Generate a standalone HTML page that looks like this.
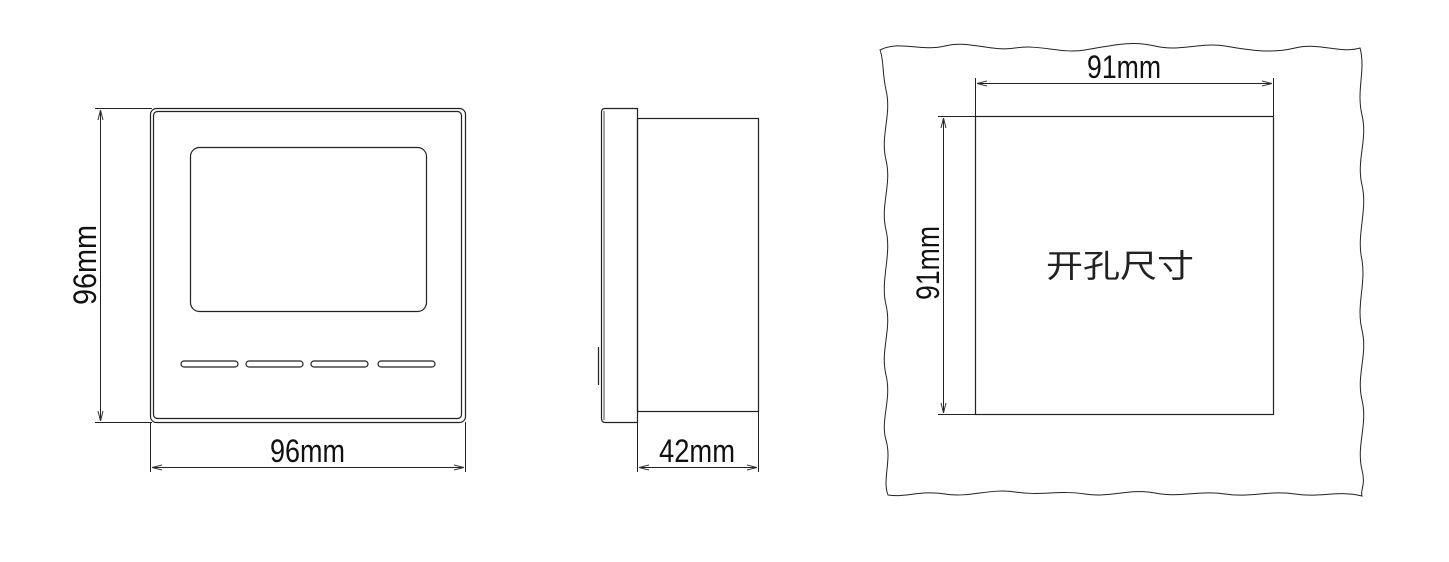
<!DOCTYPE html>
<html><head><meta charset="utf-8"><style>html,body{margin:0;padding:0;background:#fff}svg{display:block}</style></head><body>
<svg width="1449" height="562" viewBox="0 0 1449 562" xmlns="http://www.w3.org/2000/svg" font-family="'Liberation Sans','Noto Sans CJK SC',sans-serif">
<defs>
<marker id="a" viewBox="0 0 10 6" refX="10" refY="3" markerWidth="10" markerHeight="6" orient="auto-start-reverse" markerUnits="userSpaceOnUse"><path d="M0,0.5 L10,3 L0,5.5" fill="none" stroke="#333" stroke-width="1"/></marker>
</defs>
<g fill="none" stroke="#222" stroke-width="1.2">
<!-- front view -->
<rect x="150.5" y="108.5" width="315" height="314" rx="6"/>
<rect x="153.5" y="111.5" width="308" height="307" rx="4"/>
<rect x="190.5" y="147.5" width="236" height="164" rx="9"/>
<rect x="181" y="361" width="57" height="6" rx="3"/>
<rect x="246" y="361" width="57" height="6" rx="3"/>
<rect x="311" y="361" width="57" height="6" rx="3"/>
<rect x="378" y="361" width="57" height="6" rx="3"/>
<!-- dims front -->
<line x1="95" y1="108.5" x2="152" y2="108.5" stroke-width="1"/>
<line x1="95" y1="422.5" x2="152" y2="422.5" stroke-width="1"/>
<line x1="100.5" y1="110" x2="100.5" y2="421" stroke-width="1" marker-start="url(#a)" marker-end="url(#a)"/>
<line x1="150.5" y1="422" x2="150.5" y2="472" stroke-width="1"/>
<line x1="465.5" y1="422" x2="465.5" y2="472" stroke-width="1"/>
<line x1="152" y1="467.5" x2="464" y2="467.5" stroke-width="1" marker-start="url(#a)" marker-end="url(#a)"/>
<!-- side view -->
<path d="M637.5,108.5 H605 Q601.5,108.5 601.5,112 V418 Q601.5,422.5 605,422.5 H637.5 Z"/>
<line x1="604" y1="111" x2="604" y2="420" stroke-width="0.8"/>
<rect x="637.5" y="118.5" width="121" height="293"/>
<line x1="598.5" y1="347" x2="598.5" y2="385"/>
<line x1="637.5" y1="422" x2="637.5" y2="472" stroke-width="1"/>
<line x1="758.5" y1="412" x2="758.5" y2="472" stroke-width="1"/>
<line x1="639" y1="467.5" x2="757" y2="467.5" stroke-width="1" marker-start="url(#a)" marker-end="url(#a)"/>
<!-- cutout -->
<path d="M880,50 C900,40 920,52 945,46 C970,40 990,52 1015,48 C1040,44 1060,54 1085,50 C1110,46 1130,40 1155,46 C1180,52 1200,42 1225,46 C1250,50 1270,54 1295,48 C1320,42 1340,54 1360,48
C1366,70 1356,90 1362,115 C1368,140 1356,160 1362,185 C1368,210 1356,235 1362,260 C1366,285 1356,305 1362,330 C1368,355 1356,375 1362,400 C1368,425 1356,445 1362,470 C1366,485 1360,490 1362,496
C1340,490 1320,498 1295,494 C1270,490 1250,498 1225,494 C1200,490 1180,498 1155,493 C1130,488 1110,498 1085,494 C1060,490 1040,496 1015,492 C990,488 970,498 945,494 C920,490 905,498 888,495
C882,480 892,460 886,440 C880,420 892,400 886,375 C880,350 892,330 886,305 C880,280 892,255 886,230 C880,205 892,185 886,160 C880,135 892,115 886,90 C882,72 884,60 880,50 Z" stroke-width="1"/>
<rect x="975.5" y="116.5" width="298" height="298"/>
<line x1="975.5" y1="78" x2="975.5" y2="116" stroke-width="1"/>
<line x1="1273.5" y1="78" x2="1273.5" y2="116" stroke-width="1"/>
<line x1="977" y1="83.5" x2="1272" y2="83.5" stroke-width="1" marker-start="url(#a)" marker-end="url(#a)"/>
<line x1="938" y1="116.5" x2="975" y2="116.5" stroke-width="1"/>
<line x1="938" y1="414.5" x2="975" y2="414.5" stroke-width="1"/>
<line x1="943.5" y1="118" x2="943.5" y2="413" stroke-width="1" marker-start="url(#a)" marker-end="url(#a)"/>
</g>
<g fill="#111" font-size="32">
<text x="270" y="462" textLength="75" lengthAdjust="spacingAndGlyphs">96mm</text>
<text x="659" y="462" textLength="76" lengthAdjust="spacingAndGlyphs">42mm</text>
<text x="1087" y="78" textLength="74" lengthAdjust="spacingAndGlyphs">91mm</text>
<text transform="translate(96,305) rotate(-90)" textLength="80" lengthAdjust="spacingAndGlyphs">96mm</text>
<text transform="translate(939,300) rotate(-90)" textLength="74" lengthAdjust="spacingAndGlyphs">91mm</text>
<text x="1046" y="277" font-size="32" fill="#222" textLength="148" lengthAdjust="spacingAndGlyphs">开孔尺寸</text>
</g>
</svg>
</body></html>
